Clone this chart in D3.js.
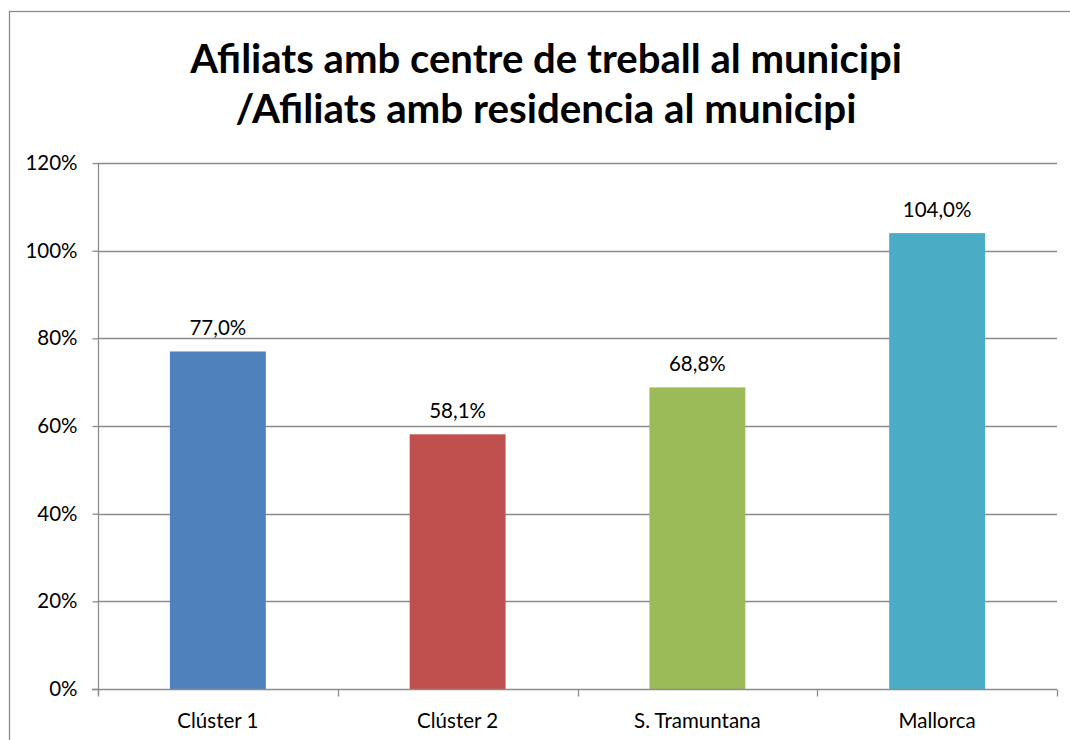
<!DOCTYPE html>
<html lang="ca">
<head>
<meta charset="UTF-8">
<title>Afiliats</title>
<style>
  body { margin: 0; background: #fff; }
  svg { display: block; font-family: Lato, "Open Sans", sans-serif; }
</style>
</head>
<body>
<div id="chart"></div>
<script src="https://d3js.org/d3.v7.min.js"></script>
<script>
var categories = ["Clúster 1", "Clúster 2", "S. Tramuntana", "Mallorca"];
var values = [0.770, 0.581, 0.688, 1.040];
var colors = ["#4F81BD", "#C0504D", "#9BBB59", "#4BACC6"];
var yTicks = [0, 0.2, 0.4, 0.6, 0.8, 1.0, 1.2];
var titleLines = ["Afiliats amb centre de treball al municipi", "/Afiliats amb residencia al municipi"];

var W = 1070, H = 740;
var margin = {top: 163, right: 13, bottom: 51, left: 98},
    width = W - margin.left - margin.right,
    height = H - margin.top - margin.bottom;
var labelSize = '20.5px';

var svg = d3.select('#chart').append('svg')
    .attr('width', W)
    .attr('height', H);

// outer chart border (runs off the right and bottom edges)
svg.append('rect')
    .attr('x', 9.5).attr('y', 11.5)
    .attr('width', 1200).attr('height', 900)
    .attr('fill', 'none')
    .attr('stroke', '#8c8c8c')
    .attr('stroke-width', 1.3);

// title
var title = svg.append('g');
title.selectAll('text')
    .data(titleLines)
    .enter().append('text')
    .attr('x', 546)
    .attr('y', function(d, i) { return 73 + i * 50; })
    .attr('text-anchor', 'middle')
    .style('font-weight', 'bold')
    .style('font-size', '37px')
    .text(function(d) { return d; });
// fit title width to reference
var targetW = [712, 621];
title.selectAll('text').each(function(d, i) {
    var w = this.getComputedTextLength();
    d3.select(this).style('font-size', (37 * targetW[i] / w).toFixed(1) + 'px');
});

var g = svg.append('g')
    .attr('transform', 'translate(' + margin.left + ',' + margin.top + ')');

var x = d3.scaleBand()
    .domain(categories)
    .range([0, width])
    .paddingInner(0.6)
    .paddingOuter(0.3);

var xEdges = d3.scaleLinear().domain([0, categories.length]).range([0, width]);

var y = d3.scaleLinear()
    .domain([0, 1.2])
    .range([height, 0]);

var fmt = function(v) { return d3.format('.0%')(v); };

// gridlines
g.append('g')
    .selectAll('line')
    .data(yTicks.slice(1))
    .enter().append('line')
    .attr('x1', 0).attr('x2', width)
    .attr('y1', function(d) { return Math.round(y(d)) + 0.5; })
    .attr('y2', function(d) { return Math.round(y(d)) + 0.5; })
    .attr('stroke', '#8c8c8c')
    .attr('stroke-width', 1.3);

// y axis
var yAxis = g.append('g')
    .attr('transform', 'translate(0.5,0)')
    .call(d3.axisLeft(y).tickValues(yTicks).tickFormat(fmt).tickSize(6).tickPadding(15));
yAxis.selectAll('line, path').attr('stroke', '#8c8c8c').attr('stroke-width', 1.3);
yAxis.select('.domain').attr('d', 'M0,' + (height + 6) + 'V0');
yAxis.selectAll('text').style('font-size', labelSize).style('font-family', 'Lato, "Open Sans", sans-serif').attr('fill', '#000');

// bars
g.selectAll('.bar')
    .data(values)
    .enter().append('rect')
    .attr('class', 'bar')
    .attr('x', function(d, i) { return x(categories[i]); })
    .attr('y', function(d) { return y(d); })
    .attr('width', x.bandwidth())
    .attr('height', function(d) { return height - y(d); })
    .attr('fill', function(d, i) { return colors[i]; });

// value labels
g.selectAll('.val')
    .data(values)
    .enter().append('text')
    .attr('class', 'val')
    .attr('x', function(d, i) { return x(categories[i]) + x.bandwidth() / 2; })
    .attr('y', function(d) { return y(d) - 16; })
    .attr('text-anchor', 'middle')
    .style('font-size', labelSize)
    .text(function(d) { return d3.format('.1f')(d * 100).replace('.', ',') + '%'; });

// x axis
var xAxisG = g.append('g').attr('transform', 'translate(0,' + (Math.round(height) + 0.5) + ')');
xAxisG.append('line')
    .attr('x1', -6).attr('x2', width)
    .attr('stroke', '#8c8c8c').attr('stroke-width', 1.3);
xAxisG.selectAll('.tick')
    .data(d3.range(categories.length + 1))
    .enter().append('line')
    .attr('x1', function(d) { return Math.round(xEdges(d)) + 0.5; })
    .attr('x2', function(d) { return Math.round(xEdges(d)) + 0.5; })
    .attr('y1', 0).attr('y2', 7)
    .attr('stroke', '#8c8c8c').attr('stroke-width', 1.3);
xAxisG.selectAll('.cat')
    .data(categories)
    .enter().append('text')
    .attr('x', function(d) { return x(d) + x.bandwidth() / 2; })
    .attr('y', 38)
    .attr('text-anchor', 'middle')
    .style('font-size', labelSize)
    .text(function(d) { return d; });
</script>
</body>
</html>
